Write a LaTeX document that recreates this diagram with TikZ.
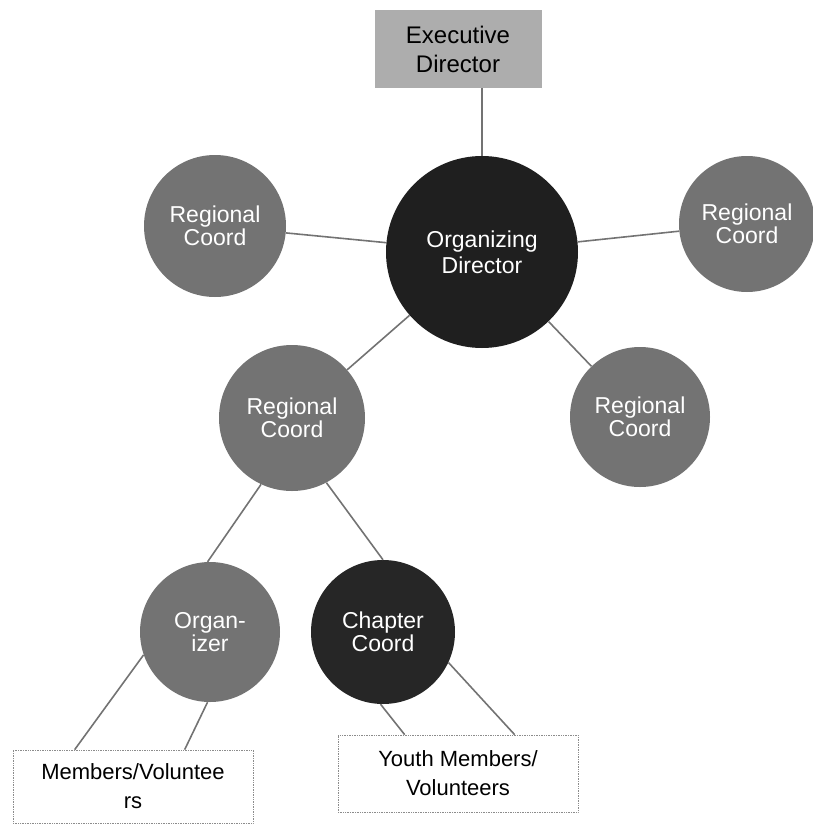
\documentclass[tikz,border=0pt]{standalone}
\usepackage{fontspec}
\setmainfont{Liberation Sans}
\usepackage{xcolor}
\usetikzlibrary{positioning}
\tikzset{
  % Circle styles
  role/.style={circle, minimum size=140pt, inner sep=0pt, align=center, draw=none, fill=#1, text=white, font=\fontsize{23}{23}\selectfont},
  role/.default={black!55},
  bigrole/.style={circle, minimum size=192pt, inner sep=0pt, align=center, draw=none, fill=#1, text=white, font=\fontsize{23}{26}\selectfont},
  bigrole/.default={black!88},
  % Box styles
  topbox/.style={rectangle, minimum width=167pt, minimum height=78pt, align=center, draw=none, fill=black!32, font=\fontsize{24}{29}\selectfont},
  memberbox/.style={rectangle, minimum width=240pt, minimum height=#1, align=center, draw=black!45, densely dotted, line width=0.7pt, fill=white, font=\fontsize{22}{29}\selectfont},
  memberbox/.default={76pt},
  link/.style={draw=black!55, line width=1.6pt},
}
\begin{document}
\begin{tikzpicture}[x=1pt, y=-1pt]
    \useasboundingbox (0,0) rectangle (813,825);

    % Executive Director
    \node[topbox] (execdir) at (458,49) {Executive\\Director};

    % Organizing Director
    \node[bigrole] (orgdir) at (482,252) {Organizing\\Director};

    % Regional Coords
    \node[role, minimum size=142pt] (regnw) at (215,226) {Regional\\Coord};
    \node[role, minimum size=136pt] (regne) at (747,224) {Regional\\Coord};
    \node[role, minimum size=146pt] (regsw) at (292,418) {Regional\\Coord};
    \node[role] (regse) at (640,417) {Regional\\Coord};

    % Organizer and Chapter Coord
    \node[role] (organizer) at (210,632) {Organ-\\izer};
    \node[role=black!85, minimum size=144pt] (chapter) at (383,632) {Chapter\\Coord};

    % Member boxes
    \node[memberbox=73pt] (members) at (133,786.5) {Members/Voluntee\\rs};
    \node[memberbox=77pt] (youth) at (458,773.5) {Youth Members/\\Volunteers};

    % === Links ===
    \draw[link] (execdir.south -| orgdir.north) -- (orgdir.north);
    \draw[link] (orgdir) -- (regnw);
    \draw[link] (orgdir) -- (regne);
    \draw[link] (orgdir) -- (regsw);
    \draw[link] (orgdir) -- (regse);

    % Regional Coord down
    \draw[link] (regsw.245) -- (organizer.92);
    \draw[link] (regsw.298) -- (chapter.north);

    % To members
    \draw[link] (organizer.199) -- ([xshift=62pt]members.north west);
    \draw[link] (organizer.268) -- ([xshift=172pt]members.north west);
    \draw[link] (chapter.268) -- ([xshift=67pt]youth.north west);
    \draw[link] (chapter.335) -- ([xshift=177pt]youth.north west);
  \end{tikzpicture}
\end{document}
